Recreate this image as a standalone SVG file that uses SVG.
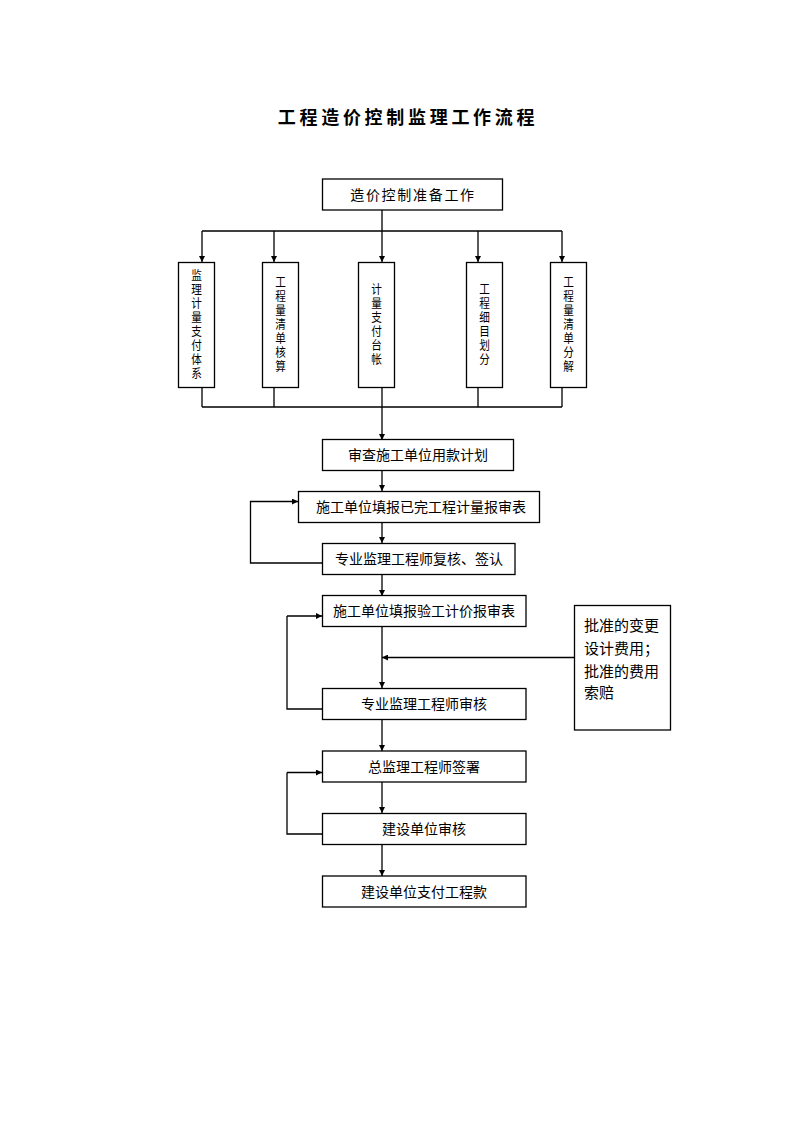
<svg xmlns="http://www.w3.org/2000/svg" width="794" height="1123" viewBox="0 0 794 1123">
<style>
.box{fill:#fff;stroke:#000;stroke-width:1.3}
.t{font-family:"Noto Sans CJK SC","Liberation Sans",sans-serif;font-size:14px;fill:#000;text-anchor:middle}
.title{font-family:"Noto Sans CJK SC",sans-serif;font-size:18px;font-weight:bold;letter-spacing:3.7px;text-anchor:middle}
.vt{font-family:"Noto Sans CJK SC",sans-serif;font-size:12.5px;letter-spacing:1.5px;writing-mode:vertical-rl;text-orientation:upright;text-anchor:middle}
.ln{fill:none;stroke:#000;stroke-width:1.3}
</style>
<defs>
<marker id="ah" viewBox="0 0 10 10" refX="10" refY="5" markerWidth="6" markerHeight="6" markerUnits="userSpaceOnUse" orient="auto">
<path d="M0,0 L10,5 L0,10 z" fill="#000"/>
</marker>
</defs>
<rect width="794" height="1123" fill="#fff"/>
<text class="title" x="408" y="124">工程造价控制监理工作流程</text>

<g id="connectors">
<path class="ln" d="M382,210 V231 M202,231 H562"/>
<path class="ln" d="M202,231 V262" marker-end="url(#ah)"/>
<path class="ln" d="M274,231 V262" marker-end="url(#ah)"/>
<path class="ln" d="M382,231 V262" marker-end="url(#ah)"/>
<path class="ln" d="M478,231 V262" marker-end="url(#ah)"/>
<path class="ln" d="M562,231 V262" marker-end="url(#ah)"/>
<path class="ln" d="M202,387 V407 M274,387 V407 M478,387 V407 M562,387 V407 M202,407 H562"/>
<path class="ln" d="M382,387 V440" marker-end="url(#ah)"/>
<path class="ln" d="M382,470 V491" marker-end="url(#ah)"/>
<path class="ln" d="M382,522 V543" marker-end="url(#ah)"/>
<path class="ln" d="M382,575 V596" marker-end="url(#ah)"/>
<path class="ln" d="M382,626 V688" marker-end="url(#ah)"/>
<path class="ln" d="M574,657.5 H382" marker-end="url(#ah)"/>
<path class="ln" d="M382,719 V751" marker-end="url(#ah)"/>
<path class="ln" d="M382,782 V813" marker-end="url(#ah)"/>
<path class="ln" d="M382,844 V876" marker-end="url(#ah)"/>
<path class="ln" d="M322,563 H250.5 V501.5 H298" marker-end="url(#ah)"/>
<path class="ln" d="M322,709 H287 V616"/>
<path class="ln" d="M287,616 H322" stroke-width="2" marker-end="url(#ah)"/>
<path class="ln" d="M322,834 H287 V772.5"/>
<path class="ln" d="M287,772.5 H322" stroke-width="2" marker-end="url(#ah)"/>
</g>

<g id="n-prep">
<rect class="box" x="322.5" y="179" width="180" height="31"/>
<text class="t" x="413" y="200" style="letter-spacing:1.7px">造价控制准备工作</text>
</g>

<g id="n-v1">
<rect class="box" x="178.5" y="262.5" width="36" height="125"/>
<text class="vt" x="0" y="325" transform="translate(196.5,0) scale(0.85,1)">监理计量支付体系</text>
</g>
<g id="n-v2">
<rect class="box" x="262.5" y="262.5" width="36" height="125"/>
<text class="vt" x="0" y="325" transform="translate(280.5,0) scale(0.85,1)">工程量清单核算</text>
</g>
<g id="n-v3">
<rect class="box" x="358.5" y="262.5" width="36" height="125"/>
<text class="vt" x="0" y="325" transform="translate(376.5,0) scale(0.85,1)">计量支付台帐</text>
</g>
<g id="n-v4">
<rect class="box" x="466.5" y="262.5" width="36" height="125"/>
<text class="vt" x="0" y="325" transform="translate(484.5,0) scale(0.85,1)">工程细目划分</text>
</g>
<g id="n-v5">
<rect class="box" x="550.5" y="262.5" width="36" height="125"/>
<text class="vt" x="0" y="325" transform="translate(568.5,0) scale(0.85,1)">工程量清单分解</text>
</g>

<g id="n-plan">
<rect class="box" x="322.5" y="439.5" width="191" height="31"/>
<text class="t" x="418" y="460">审查施工单位用款计划</text>
</g>
<g id="n-report1">
<rect class="box" x="298.5" y="491.5" width="241" height="31"/>
<text class="t" x="421" y="512">施工单位填报已完工程计量报审表</text>
</g>
<g id="n-review1">
<rect class="box" x="322.5" y="543.5" width="192.5" height="31"/>
<text class="t" x="419" y="564">专业监理工程师复核、签认</text>
</g>
<g id="n-report2">
<rect class="box" x="322.5" y="595.5" width="203.5" height="31"/>
<text class="t" x="424" y="616">施工单位填报验工计价报审表</text>
</g>
<g id="n-side">
<rect class="box" x="574.5" y="605.5" width="96" height="124.5"/>
<text class="t" style="font-size:15px;text-anchor:start"><tspan x="584" y="631">批准的变更</tspan><tspan x="584" y="654">设计费用；</tspan><tspan x="584" y="677">批准的费用</tspan><tspan x="584" y="698">索赔</tspan></text>
</g>
<g id="n-review2">
<rect class="box" x="322.5" y="688.5" width="203.5" height="31"/>
<text class="t" x="424" y="709">专业监理工程师审核</text>
</g>
<g id="n-chief">
<rect class="box" x="322.5" y="751" width="203.5" height="31"/>
<text class="t" x="424" y="772">总监理工程师签署</text>
</g>
<g id="n-owner">
<rect class="box" x="322.5" y="813.5" width="203.5" height="31"/>
<text class="t" x="424" y="834">建设单位审核</text>
</g>
<g id="n-pay">
<rect class="box" x="322.5" y="876" width="203.5" height="31"/>
<text class="t" x="424" y="897">建设单位支付工程款</text>
</g>
</svg>
